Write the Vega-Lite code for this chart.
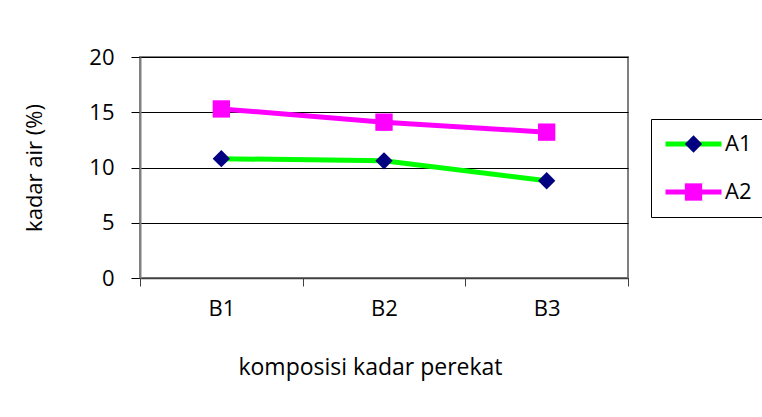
{
  "$schema": "https://vega.github.io/schema/vega-lite/v6.json",
  "width": 488,
  "height": 221,
  "autosize": "none",
  "padding": {"left": 140, "top": 57, "right": 134, "bottom": 139},
  "background": "white",
  "data": {
    "values": [
      {"komposisi": "B1", "seri": "A1", "kadar": 10.8},
      {"komposisi": "B2", "seri": "A1", "kadar": 10.6},
      {"komposisi": "B3", "seri": "A1", "kadar": 8.8},
      {"komposisi": "B1", "seri": "A2", "kadar": 15.3},
      {"komposisi": "B2", "seri": "A2", "kadar": 14.1},
      {"komposisi": "B3", "seri": "A2", "kadar": 13.2}
    ]
  },
  "encoding": {
    "x": {
      "field": "komposisi", "type": "nominal",
      "scale": {"paddingInner": 0, "paddingOuter": 0},
      "axis": {
        "title": "komposisi kadar perekat", "labelAngle": 0, "tickBand": "extent",
        "tickSize": 8, "tickColor": "#404040", "domainColor": "#404040", "domainWidth": 1.5,
        "labelPadding": 12, "titlePadding": 37, "titleX": 230, "titleFontSize": 23
      }
    },
    "y": {
      "field": "kadar", "type": "quantitative",
      "scale": {"domain": [0, 20]},
      "axis": {
        "title": "kadar air (%)", "values": [0, 5, 10, 15, 20],
        "grid": true, "gridColor": "black", "gridWidth": 1, "gridOpacity": 1,
        "tickSize": 9, "tickColor": "black", "domainColor": "#808080", "domainWidth": 2,
        "labelPadding": 17, "titlePadding": 42
      }
    }
  },
  "layer": [
    {
      "mark": {"type": "line", "strokeWidth": 5},
      "encoding": {
        "stroke": {
          "field": "seri", "type": "nominal",
          "scale": {"domain": ["A1", "A2"], "range": ["#00FF00", "#FF00FF"]},
          "legend": {
            "title": null, "orient": "none", "legendX": 511, "legendY": 62,
            "symbolType": "M-3.5,0H3.5", "symbolSize": 256, "symbolStrokeWidth": 5,
            "symbolOffset": 17.5,
            "strokeColor": "black", "padding": 14, "rowPadding": 26,
            "labelFontSize": 22, "labelOffset": 20.5
          }
        }
      }
    },
    {
      "mark": {"type": "point", "filled": true, "size": 300, "opacity": 1},
      "encoding": {
        "fill": {
          "field": "seri", "type": "nominal",
          "scale": {"domain": ["A1", "A2"], "range": ["#000080", "#FF00FF"]},
          "legend": {
            "title": null, "orient": "none", "legendX": 511, "legendY": 62,
            "symbolSize": 300, "symbolStrokeWidth": 0, "symbolOpacity": 1,
            "symbolOffset": 17.5,
            "padding": 14, "rowPadding": 26,
            "labelFontSize": 22, "labelExpr": "''"
          }
        },
        "shape": {
          "field": "seri", "type": "nominal",
          "scale": {"domain": ["A1", "A2"], "range": ["diamond", "square"]},
          "legend": {
            "title": null, "orient": "none", "legendX": 511, "legendY": 62,
            "symbolSize": 300, "symbolStrokeWidth": 0, "symbolOpacity": 1,
            "symbolOffset": 17.5,
            "padding": 14, "rowPadding": 26,
            "labelFontSize": 22, "labelExpr": "''"
          }
        }
      }
    }
  ],
  "resolve": {
    "scale": {"stroke": "independent", "fill": "independent", "shape": "independent"},
    "legend": {"stroke": "independent", "fill": "independent", "shape": "independent"}
  },
  "config": {
    "font": "Open Sans",
    "view": {"stroke": "#808080", "strokeWidth": 2},
    "axis": {
      "labelFont": "Open Sans", "labelFontSize": 22, "labelColor": "black",
      "titleFont": "Open Sans", "titleFontSize": 22, "titleColor": "black", "titleFontWeight": "normal"
    },
    "legend": {"labelFont": "Open Sans", "labelColor": "black"}
  }
}
